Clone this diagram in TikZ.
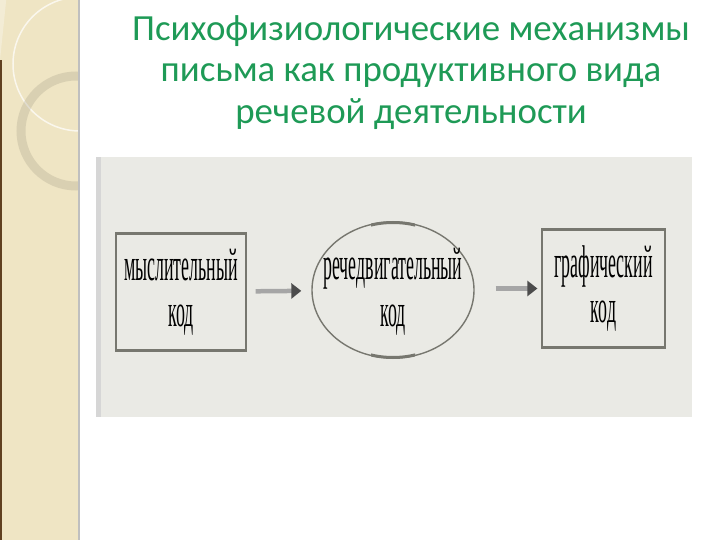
\documentclass[tikz,border=0pt]{standalone}
\usepackage{fontspec}
\usepackage{graphicx}
\setmainfont{Liberation Serif}
\newfontfamily\titlefont{Carlito}
\usetikzlibrary{shapes.geometric,arrows.meta}
\definecolor{titlegreen}{HTML}{1E9A56}
\definecolor{stripbeige}{HTML}{EFE5C4}
\definecolor{photogray}{HTML}{EAEAE5}
\definecolor{framegray}{HTML}{77776F}
\newcommand{\narrow}[1]{\scalebox{0.39}[1]{#1}}
\begin{document}
\begin{tikzpicture}
            [
                x=1bp, y=-1bp,
                codebox/.style={rectangle, draw=framegray, line width=1.2bp, inner sep=0pt, align=center,
                    font=\fontsize{46}{46}\selectfont},
                codeoval/.style={ellipse, draw=framegray, line width=1.4bp, inner sep=0pt,
                    minimum width=162bp, minimum height=136bp},
                codetext/.style={align=center, inner sep=0pt, font=\fontsize{46}{47}\selectfont},
                arr/.style={draw=gray!70, line width=4.5bp, -{Triangle[color=black!70, length=10bp, width=15bp]}}
            ]
            \useasboundingbox (0,0) rectangle (720,540);
            % strip
            \fill[stripbeige] (0,0) rectangle (78,540);
            \begin{scope}
                \clip (0,0) rectangle (78,540);
                \fill[white, opacity=0.3] (0,0) -- (62,0) arc[start angle=105, end angle=185, radius=66] -- (0,60) -- cycle;
                \draw[white, line width=1.5bp, opacity=0.7] (80,64) circle[radius=67];
                \draw[black!30!stripbeige, line width=9bp, opacity=0.3] (76,131) circle[radius=55];
            \end{scope}
            \fill[brown!50!black] (0,60) rectangle (2,540);
            \fill[black!25] (78,0) rectangle (80,540);
            % title
            \node[text=titlegreen, font=\titlefont\fontsize{37}{41.5}\selectfont, align=center, anchor=north]
                (title) at (411,12) {Психофизиологические механизмы\\письма как продуктивного вида\\речевой деятельности};
            % photo
            \fill[photogray] (96,157) rectangle (692,417);
            \fill[black!16] (96,157) rectangle (101,417);
            % codes
            \node[codebox, minimum width=130bp, minimum height=116bp] (mysl) at (181,292)
                {\narrow{мыслительный}\\\narrow{код}};
            \node[codeoval] (rech) at (393,290) {};
            \node[codetext] (rechtext) at (393,292) {\narrow{речедвигательный}\\\narrow{код}};
            \node[codebox, minimum width=123bp, minimum height=117bp] (graf) at (603.5,288.5)
                {\narrow{графический}\\\narrow{код}};
            % thick edges
            \foreach \b in {mysl, graf}
            {
                \draw[framegray, line width=2.6bp] (\b.north west) -- (\b.north east);
                \draw[framegray, line width=2.6bp] (\b.south west) -- (\b.south east);
            }
            \foreach \a/\d in {north/-5, south/5}
            {
                \begin{scope}
                    \clip (rech.\a) ++(-22,\d) rectangle ++(44,-2*\d-4*\d/5);
                    \draw[framegray, line width=3bp] (rech.center) ellipse[x radius=80.5, y radius=67.5];
                \end{scope}
            }
            \draw[arr, shorten <=9bp, shorten >=10bp] (mysl) -- (rech);
            \draw[arr, shorten <=21bp, shorten >=4bp] (rech.east |- graf.west) -- (graf.west);
\end{tikzpicture}
\end{document}
